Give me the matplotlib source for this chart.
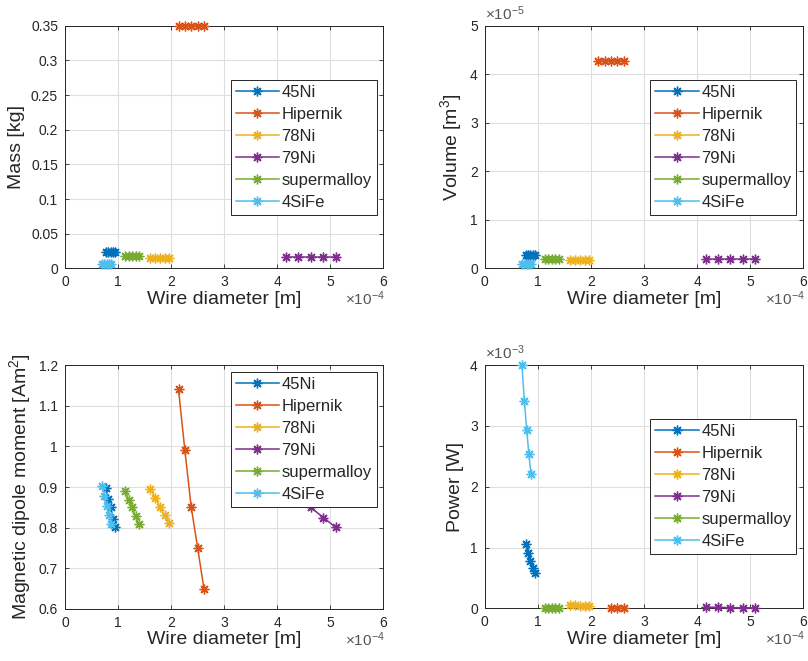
import numpy as np
import matplotlib
matplotlib.use("Agg")
import matplotlib.pyplot as plt
from matplotlib.ticker import FuncFormatter, FixedLocator

plt.rcParams['font.family'] = ['Liberation Sans', 'DejaVu Sans']
plt.rcParams['mathtext.fontset'] = 'custom'
plt.rcParams['mathtext.rm'] = 'Liberation Sans'
plt.rcParams['mathtext.it'] = 'Liberation Sans:italic'
plt.rcParams['mathtext.default'] = 'regular'

materials = ["45Ni", "Hipernik", "78Ni", "79Ni", "supermalloy", "4SiFe"]
colors = ["#0072BD", "#D95319", "#EDB120", "#7E2F8E", "#77AC30", "#4DBEEE"]

# wire diameter [m], one row per material
diameters = [
    [0.78e-4, 0.82e-4, 0.86e-4, 0.905e-4, 0.95e-4],
    [2.14e-4, 2.26e-4, 2.38e-4, 2.50e-4, 2.62e-4],
    [1.61e-4, 1.70e-4, 1.79e-4, 1.88e-4, 1.97e-4],
    [4.16e-4, 4.40e-4, 4.63e-4, 4.87e-4, 5.10e-4],
    [1.14e-4, 1.20e-4, 1.27e-4, 1.33e-4, 1.39e-4],
    [0.70e-4, 0.745e-4, 0.79e-4, 0.83e-4, 0.87e-4],
]

mass = [
    [0.0235, 0.0235, 0.0235, 0.0235, 0.0235],
    [0.35, 0.35, 0.35, 0.35, 0.35],
    [0.0153, 0.0153, 0.0153, 0.0153, 0.0153],
    [0.0162, 0.0162, 0.0162, 0.0162, 0.0162],
    [0.0172, 0.0172, 0.0172, 0.0172, 0.0172],
    [0.0063, 0.0063, 0.0063, 0.0063, 0.0063],
]

volume = [
    [0.285e-5, 0.285e-5, 0.285e-5, 0.285e-5, 0.285e-5],
    [4.27e-5, 4.27e-5, 4.27e-5, 4.27e-5, 4.27e-5],
    [0.175e-5, 0.175e-5, 0.175e-5, 0.175e-5, 0.175e-5],
    [0.19e-5, 0.19e-5, 0.19e-5, 0.19e-5, 0.19e-5],
    [0.195e-5, 0.195e-5, 0.195e-5, 0.195e-5, 0.195e-5],
    [0.085e-5, 0.085e-5, 0.085e-5, 0.085e-5, 0.085e-5],
]

dipole = [
    [0.897, 0.870, 0.850, 0.822, 0.801],
    [1.140, 0.990, 0.850, 0.751, 0.649],
    [0.896, 0.874, 0.851, 0.830, 0.811],
    [0.900, 0.875, 0.850, 0.825, 0.801],
    [0.890, 0.868, 0.850, 0.828, 0.810],
    [0.902, 0.879, 0.853, 0.832, 0.808],
]

power = [
    [1.06e-3, 0.91e-3, 0.78e-3, 0.67e-3, 0.58e-3],
    [np.nan, np.nan, 0.004e-3, 0.003e-3, 0.002e-3],
    [0.06e-3, 0.05e-3, 0.04e-3, 0.035e-3, 0.03e-3],
    [0.02e-3, 0.015e-3, 0.012e-3, 0.01e-3, 0.008e-3],
    [0.01e-3, 0.008e-3, 0.006e-3, 0.005e-3, 0.004e-3],
    [4.00e-3, 3.41e-3, 2.93e-3, 2.54e-3, 2.21e-3],
]

x_ticks = [0, 1e-4, 2e-4, 3e-4, 4e-4, 5e-4, 6e-4]
mass_ticks = [0, 0.05, 0.1, 0.15, 0.2, 0.25, 0.3, 0.35]
volume_ticks = [0, 1e-5, 2e-5, 3e-5, 4e-5, 5e-5]
dipole_ticks = [0.6, 0.7, 0.8, 0.9, 1.0, 1.1, 1.2]
power_ticks = [0, 1e-3, 2e-3, 3e-3, 4e-3]

dark = '#262626'


def scaled(exp):
    return FuncFormatter(lambda v, p: '%g' % round(v / 10.0 ** exp, 6))


def panel(ax, yvals, ylabel, yticks, yexp, loc):
    for name, c, d, y in zip(materials, colors, diameters, yvals):
        ax.plot(d, y, '-', color=c, lw=1.1, marker=(8, 2, 0), ms=7,
                mew=1.0, label=name, clip_on=False, zorder=3)
    ax.set_xlim(x_ticks[0], x_ticks[-1])
    ax.set_ylim(yticks[0], yticks[-1])
    ax.xaxis.set_major_locator(FixedLocator(x_ticks))
    ax.yaxis.set_major_locator(FixedLocator(yticks))
    ax.xaxis.set_major_formatter(scaled(-4))
    ax.yaxis.set_major_formatter(scaled(yexp))
    ax.grid(True, color='#dedede', lw=0.8)
    ax.set_axisbelow(True)
    ax.tick_params(direction='in', top=True, right=True, length=3, width=0.6,
                   labelsize=10, colors=dark, pad=5)
    for s in ax.spines.values():
        s.set_color(dark)
        s.set_linewidth(0.7)
    ax.set_xlabel('Wire diameter [m]', fontsize=14, color=dark, labelpad=1)
    ax.set_ylabel(ylabel, fontsize=14, color=dark, labelpad=4)
    ax.text(1.005, -0.125, r'$\times10^{-4}$', transform=ax.transAxes,
            ha='right', va='center', fontsize=11, color='#555555')
    if yexp != 0:
        ax.text(0.0, 1.012, r'$\times10^{%d}$' % yexp, transform=ax.transAxes,
                ha='left', va='bottom', fontsize=11, color='#555555')
    leg = ax.legend(loc=loc, fontsize=12, frameon=True, fancybox=False,
                    framealpha=1, edgecolor=dark, handlelength=2.6,
                    handletextpad=0.15, labelspacing=0.42, borderpad=0.3,
                    borderaxespad=0.4)
    leg.set_zorder(10)
    leg.get_frame().set_linewidth(0.7)
    for t in leg.get_texts():
        t.set_color(dark)


fig = plt.figure(figsize=(8.08, 6.61), dpi=100)
w, h = 0.394, 0.367
ax1 = fig.add_axes([0.0804, 0.594, w, h])
ax2 = fig.add_axes([0.600, 0.594, w, h])
ax3 = fig.add_axes([0.0804, 0.0787, w, 0.369])
ax4 = fig.add_axes([0.600, 0.0797, w, 0.368])

panel(ax1, mass, 'Mass [kg]', mass_ticks, 0, 'center right')
panel(ax2, volume, r'Volume [m$^3$]', volume_ticks, -5, 'center right')
panel(ax3, dipole, r'Magnetic dipole moment [Am$^2$]', dipole_ticks, 0, 'upper right')
panel(ax4, power, 'Power [W]', power_ticks, -3, 'center right')

fig.savefig('out.png', dpi=100)
